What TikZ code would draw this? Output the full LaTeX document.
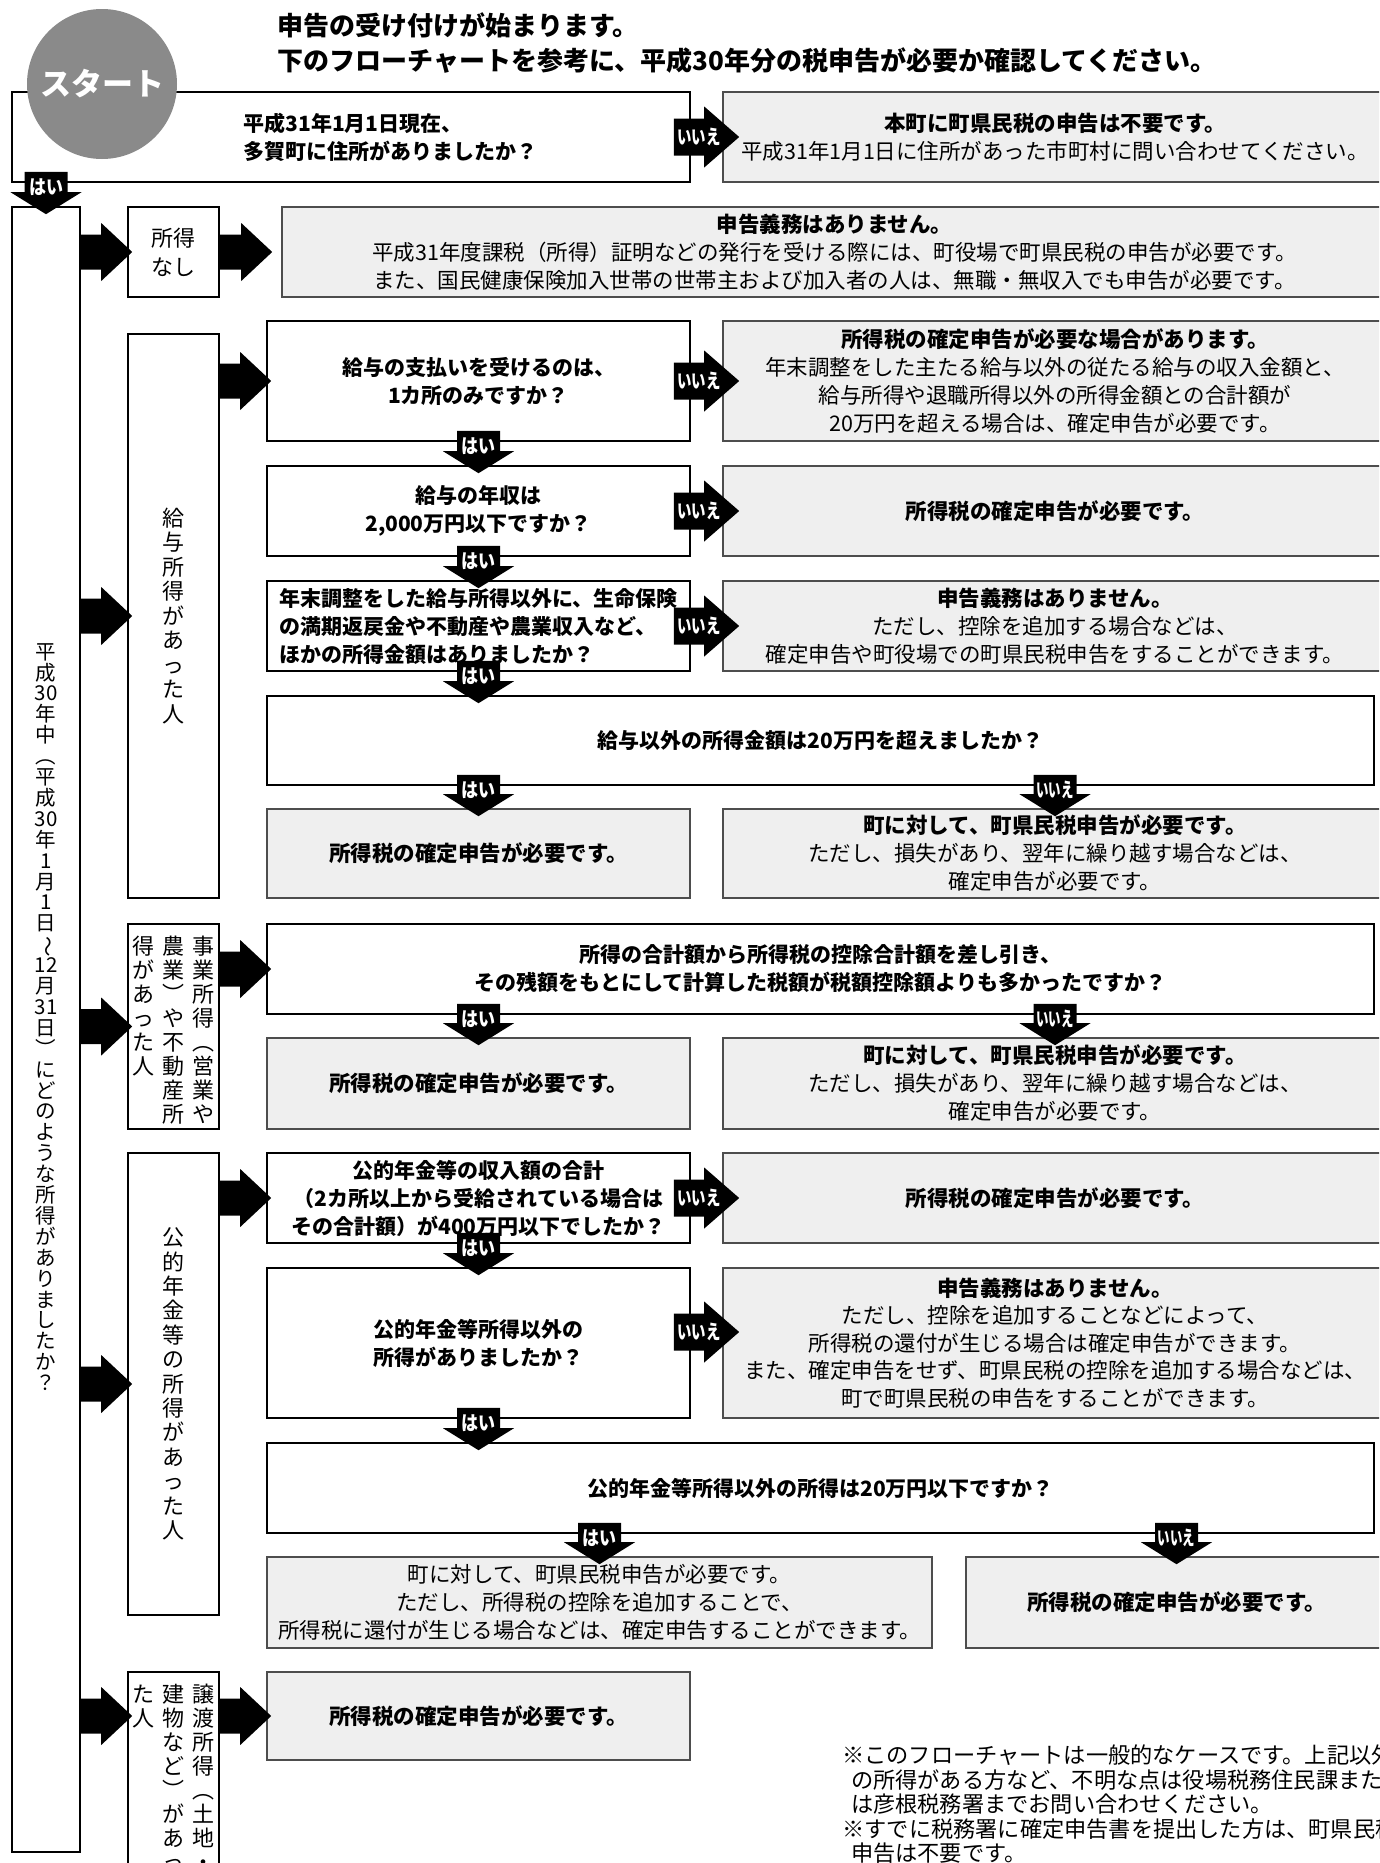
\documentclass[tikz,border=0pt]{standalone}
\usepackage{fontspec}
\setmainfont{Noto Sans CJK JP}
\usepackage{graphicx}
\usetikzlibrary{calc}

\definecolor{resgray}{HTML}{EFEFEF}
\definecolor{startgray}{HTML}{8A8A8A}
\definecolor{rulegray}{HTML}{4D4D4D}

\newcommand\fs[2]{\fontsize{#1}{#2}\selectfont}
\newcommand\hai{\scalebox{0.85}[1]{はい}}
\newcommand\iie{\scalebox{0.62}[1]{いいえ}}

\makeatletter
% one column of vertical text, #1 = pitch
\newcommand\tate[2]{\vtop{\baselineskip=#1\lineskiplimit=-\maxdimen
  \@tfor\tchar:=#2\do{\hbox to 1em{\hss\tchar\hss}}}}
\makeatother

% box from corners: style, x1, y1, x2, y2, name, text
\newcommand\bx[7]{\pgfmathsetmacro\bxw{#4-#2}\pgfmathsetmacro\bxh{#5-#3}%
  \node[#1, minimum width=\bxw pt, minimum height=\bxh pt] (#6) at ({(#2+#4)/2},{(#3+#5)/2}) {#7};}

% plain block arrow, #1 tail, #2 tip
\newcommand\barr[2]{%
  \coordinate (S) at (#1);
  \coordinate (T) at (#2);
  \fill ($(S)+(0,-17.5)$) -- ($(T)+(-31,-17.5)$) -- ($(T)+(-31,-29)$) -- (T)
    -- ($(T)+(-31,29)$) -- ($(T)+(-31,17.5)$) -- ($(S)+(0,17.5)$) -- cycle;}

% "no" arrow to the right, #1 y shift, #2 from, #3 to
\newcommand\noarr[3][0]{%
  \coordinate (S) at ($(#2.east |- #3.west)+(-17,#1)$);
  \coordinate (T) at ($(#3.west)+(17,#1)$);
  \fill ($(S)+(0,-18.5)$) -- ($(T)+(-35,-18.5)$) -- ($(T)+(-35,-30.5)$) -- (T)
    -- ($(T)+(-35,30.5)$) -- ($(T)+(-35,18.5)$) -- ($(S)+(0,18.5)$) -- cycle;
  \node[lbl] at ($(S)+(25,0)$) {\scalebox{0.72}[1]{いいえ}};}

% labelled arrow downwards, #1 tail, #2 tip, #3 label
\newcommand\downarr[3]{%
  \coordinate (S) at ($(#1)+(0,-11)$);
  \coordinate (T) at ($(#2)+(0,8)$);
  \fill ($(S)+(-21.5,0)$) -- ($(T)+(-21.5,-22)$) -- ($(T)+(-35.5,-22)$) -- (T)
    -- ($(T)+(35.5,-22)$) -- ($(T)+(21.5,-22)$) -- ($(S)+(21.5,0)$) -- cycle;
  \node[lbl] at ($(S)+(0,15)$) {#3};}

\begin{document}
\begin{tikzpicture}[x=1pt, y=-1pt,
  qbox/.style={draw, line width=1.6pt, fill=white, inner sep=0pt, align=center, font=\fs{21}{28}\bfseries},
  rbox/.style={draw=rulegray, line width=1.6pt, fill=resgray, inner sep=0pt, align=center, font=\fs{21.5}{28}},
  cbox/.style={draw, line width=1.6pt, fill=white, inner sep=0pt},
  lbl/.style={text=white, inner sep=0pt, font=\fs{20}{20}\bfseries}]
\useasboundingbox (0,0) rectangle (1379,1863);
\clip (0,0) rectangle (1379,1863);
\fill[white] (0,0) rectangle (1379,1863);

% heading
\node[anchor=west, font=\fs{26}{30}\bfseries] (head1) at (274,25) {申告の受け付けが始まります。};
\node[anchor=west, font=\fs{26}{30}\bfseries] (head2) at (274,61) {下のフローチャートを参考に、平成30年分の税申告が必要か確認してください。};

% address on 1 January
\bx{qbox}{12}{92}{690}{182}{q1}{}
\node[anchor=west, align=left, font=\fs{21}{28}\bfseries] (q1t) at (240,137) {平成31年1月1日現在、\\多賀町に住所がありましたか？};
\bx{rbox}{723}{92}{1387}{182}{r1}{{\bfseries 本町に町県民税の申告は不要です。}\\平成31年1月1日に住所があった市町村に問い合わせてください。}
\node[circle, fill=startgray, minimum size=150pt, inner sep=0pt, text=white, font=\fs{31}{31}\bfseries] (start) at (102,84) {スタート};

% left column
\bx{cbox}{12}{207}{80}{1852}{q0}{}
\node[inner sep=0pt, font=\fs{20.5}{20.9}] (q0t) at (46,1017) {\tate{20.9pt}{平成{30}年中︵平成{30}年1月1日{\rotatebox[origin=c]{-90}{～}}{12}月{31}日︶にどのような所得がありましたか？}};

% no income
\bx{cbox, align=center, font=\fs{22}{29}}{128}{207}{219}{297}{nz}{所得\\なし}
\bx{rbox}{282}{207}{1387}{297}{rnz}{{\bfseries 申告義務はありません。}\\平成31年度課税（所得）証明などの発行を受ける際には、町役場で町県民税の申告が必要です。\\また、国民健康保険加入世帯の世帯主および加入者の人は、無職・無収入でも申告が必要です。}

% salary
\bx{cbox}{128}{334}{219}{898}{kyu}{}
\node[inner sep=0pt, font=\fs{22}{24}] (kyut) at (kyu) {\tate{24.5pt}{給与所得があった人}};
\bx{qbox}{267}{321}{690}{441}{q2}{給与の支払いを受けるのは、\\1カ所のみですか？}
\bx{rbox}{723}{321}{1387}{441}{r2}{{\bfseries 所得税の確定申告が必要な場合があります。}\\年末調整をした主たる給与以外の従たる給与の収入金額と、\\給与所得や退職所得以外の所得金額との合計額が\\20万円を超える場合は、確定申告が必要です。}
\bx{qbox}{267}{466}{690}{556}{q3}{給与の年収は\\2,000万円以下ですか？}
\bx{rbox}{723}{466}{1387}{556}{r3}{\bfseries 所得税の確定申告が必要です。}
\bx{qbox, align=left}{267}{581}{690}{671}{q4}{年末調整をした給与所得以外に、生命保険\\の満期返戻金や不動産や農業収入など、\\ほかの所得金額はありましたか？}
\bx{rbox}{723}{581}{1387}{671}{r4}{{\bfseries 申告義務はありません。}\\ただし、控除を追加する場合などは、\\確定申告や町役場での町県民税申告をすることができます。}
\bx{qbox}{267}{696}{1374}{785}{q5}{給与以外の所得金額は20万円を超えましたか？}
\bx{rbox}{267}{809}{690}{898}{r5a}{\bfseries 所得税の確定申告が必要です。}
\bx{rbox}{723}{809}{1387}{898}{r5b}{{\bfseries 町に対して、町県民税申告が必要です。}\\ただし、損失があり、翌年に繰り越す場合などは、\\確定申告が必要です。}

% business
\bx{cbox}{128}{924}{219}{1129}{jig}{}
\node[inner sep=0pt, anchor=north, font=\fs{22}{24}] (jigt) at ($(jig.north)+(0,13)$) {\tate{24pt}{得があった人}\kern8pt\tate{24pt}{農業︶や不動産所}\kern8pt\tate{24pt}{事業所得︵営業や}};
\bx{qbox}{267}{924}{1374}{1014}{q6}{所得の合計額から所得税の控除合計額を差し引き、\\その残額をもとにして計算した税額が税額控除額よりも多かったですか？}
\bx{rbox}{267}{1038}{690}{1129}{r6a}{\bfseries 所得税の確定申告が必要です。}
\bx{rbox}{723}{1038}{1387}{1129}{r6b}{{\bfseries 町に対して、町県民税申告が必要です。}\\ただし、損失があり、翌年に繰り越す場合などは、\\確定申告が必要です。}

% pension
\bx{cbox}{128}{1153}{219}{1615}{nen}{}
\node[inner sep=0pt, font=\fs{22}{24}] (nent) at (nen) {\tate{24.4pt}{公的年金等の所得があった人}};
\bx{qbox}{267}{1153}{690}{1243}{q7}{公的年金等の収入額の合計\\（2カ所以上から受給されている場合は\\その合計額）が400万円以下でしたか？}
\bx{rbox}{723}{1153}{1387}{1243}{r7}{\bfseries 所得税の確定申告が必要です。}
\bx{qbox}{267}{1268}{690}{1418}{q8}{公的年金等所得以外の\\所得がありましたか？}
\bx{rbox, font=\fs{21.5}{27.5}}{723}{1268}{1387}{1418}{r8}{{\bfseries 申告義務はありません。}\\ただし、控除を追加することなどによって、\\所得税の還付が生じる場合は確定申告ができます。\\また、確定申告をせず、町県民税の控除を追加する場合などは、\\町で町県民税の申告をすることができます。}
\bx{qbox}{267}{1443}{1374}{1533}{q9}{公的年金等所得以外の所得は20万円以下ですか？}
\bx{rbox}{267}{1557}{932}{1648}{r9a}{町に対して、町県民税申告が必要です。\\ただし、所得税の控除を追加することで、\\所得税に還付が生じる場合などは、確定申告することができます。}
\bx{rbox}{966}{1557}{1387}{1648}{r9b}{\bfseries 所得税の確定申告が必要です。}

% transfer
\bx{cbox}{128}{1672}{219}{1900}{jo}{}
\node[inner sep=0pt, anchor=north, font=\fs{22}{24}] (jot) at ($(jo.north)+(0,13)$) {\tate{24pt}{た人}\kern8pt\tate{24pt}{建物など︶があっ}\kern8pt\tate{24pt}{譲渡所得︵土地・}};
\bx{rbox}{267}{1672}{690}{1760}{r10}{\bfseries 所得税の確定申告が必要です。}

% notes
\node[anchor=north west, align=left, inner sep=0pt, font=\fs{22.2}{24.5}] (note) at (842,1745) {※このフローチャートは一般的なケースです。上記以外\\\hspace*{0.4em}の所得がある方など、不明な点は役場税務住民課また\\\hspace*{0.4em}は彦根税務署までお問い合わせください。\\※すでに税務署に確定申告書を提出した方は、町県民税\\\hspace*{0.4em}申告は不要です。};

% arrows
\downarr{q0.north |- q1.south}{q0.north}{\hai}
\noarr{q1}{r1}
\barr{q0.east |- nz.west}{$(nz.west)+(5,0)$}
\barr{nz.east}{$(rnz.west)+(-9,0)$}
\barr{q0.east |- kyu.west}{$(kyu.west)+(5,0)$}
\barr{kyu.east |- q2.west}{$(q2.west)+(5,0)$}
\noarr{q2}{r2}
\downarr{q2.south}{q2.south |- q3.north}{\hai}
\noarr{q3}{r3}
\downarr{q3.south}{q3.south |- q4.north}{\hai}
\noarr{q4}{r4}
\downarr{q4.south}{q4.south |- q5.north}{\hai}
\downarr{r5a.north |- q5.south}{r5a.north}{\hai}
\downarr{r5b.north |- q5.south}{r5b.north}{\iie}
\barr{q0.east |- jig.west}{$(jig.west)+(5,0)$}
\barr{jig.east |- q6.west}{$(q6.west)+(5,0)$}
\downarr{r6a.north |- q6.south}{r6a.north}{\hai}
\downarr{r6b.north |- q6.south}{r6b.north}{\iie}
\barr{q0.east |- nen.west}{$(nen.west)+(5,0)$}
\barr{nen.east |- q7.west}{$(q7.west)+(5,0)$}
\noarr{q7}{r7}
\downarr{q7.south}{q7.south |- q8.north}{\hai}
\noarr[-11]{q8}{r8}
\downarr{q8.south}{q8.south |- q9.north}{\hai}
\downarr{r9a.north |- q9.south}{r9a.north}{\hai}
\downarr{r9b.north |- q9.south}{r9b.north}{\iie}
\barr{q0.east |- r10.west}{$(jo.west |- r10.west)+(5,0)$}
\barr{jo.east |- r10.west}{$(r10.west)+(5,0)$}
\end{tikzpicture}
\end{document}
